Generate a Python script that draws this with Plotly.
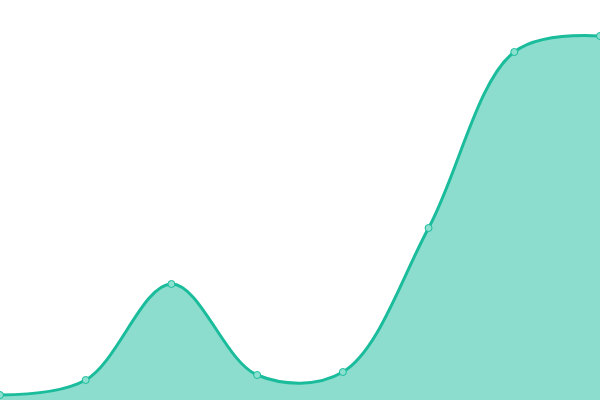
import plotly.graph_objects as go

# data (heights in plot units, 0..400)
x_vals = [0, 1, 2, 3, 4, 5, 6, 7]
y_vals = [5, 20, 116, 25, 28, 172, 348, 364]

line_color = "#1abc9c"
fill_color = "rgba(26, 188, 156, 0.5)"

fig = go.Figure(
    go.Scatter(
        x=x_vals,
        y=y_vals,
        mode="lines+markers",
        line=dict(color=line_color, width=3, shape="spline", smoothing=1),
        fill="tozeroy",
        fillcolor=fill_color,
        marker=dict(size=7, color="#8be0cf", line=dict(color=line_color, width=1)),
        hoverinfo="skip",
    )
)

fig.update_layout(
    width=600,
    height=400,
    margin=dict(t=0, l=0, r=0, b=0),
    paper_bgcolor="white",
    plot_bgcolor="white",
    showlegend=False,
    xaxis=dict(range=[0, 7], visible=False, fixedrange=True),
    yaxis=dict(range=[0, 400], visible=False, fixedrange=True),
)

# page body has a default 8px margin; drop it so the chart fills the window
fig.write_html(
    "out.html",
    config={"displayModeBar": False},
    post_script="document.body.style.margin='0';document.body.style.overflow='hidden';",
)
